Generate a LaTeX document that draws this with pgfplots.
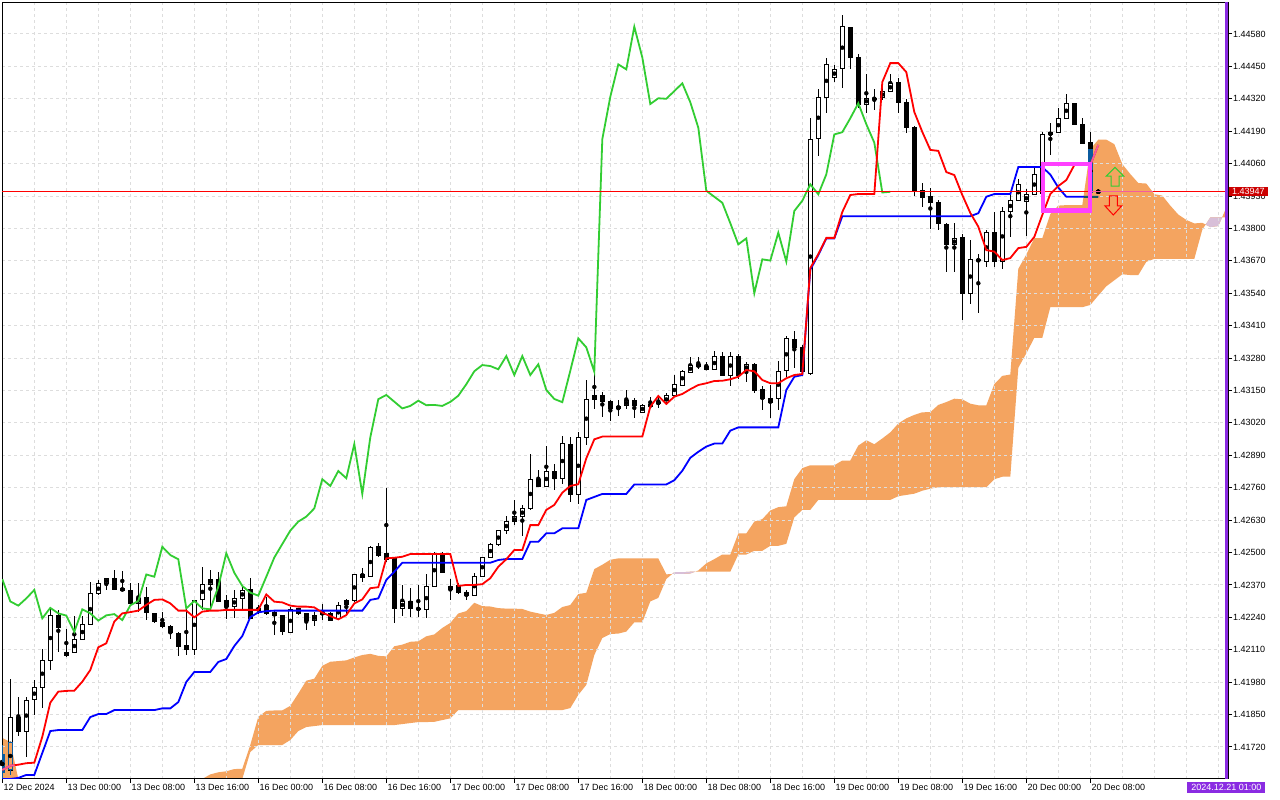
\documentclass[border=0pt]{standalone}
\usepackage{fontspec}
\setmainfont{Liberation Sans}
\usepackage{pgfplots}
\usepackage{pgfplotstable}
\pgfplotsset{compat=1.18}
\usepgfplotslibrary{fillbetween}
\definecolor{sandy}{RGB}{244,164,96}
\definecolor{thistlec}{RGB}{216,191,216}
\definecolor{tealk}{RGB}{11,91,159}
\definecolor{tealb}{RGB}{11,91,96}
\definecolor{pinkx}{RGB}{244,91,159}
\definecolor{limegr}{RGB}{50,205,50}
\definecolor{magbox}{RGB}{255,64,255}
\definecolor{bviolet}{RGB}{138,43,226}
\definecolor{pricered}{RGB}{204,0,0}
\definecolor{pline}{RGB}{255,0,0}
\definecolor{gridc}{RGB}{221,221,221}

\pgfplotstableread{
k O H L C
0 1.41688 1.41728 1.41592 1.41616
1 1.41628 1.41993 1.41608 1.41840
2 1.41839 1.41922 1.41764 1.41785
3 1.41785 1.41921 1.41681 1.41909
4 1.41911 1.41989 1.41848 1.41960
5 1.41960 1.42113 1.41878 1.42068
6 1.42068 1.42274 1.42029 1.42248
7 1.42248 1.42272 1.42102 1.42199
8 1.42088 1.42193 1.42082 1.42100
9 1.42100 1.42248 1.42098 1.42152
10 1.42152 1.42248 1.42150 1.42212
11 1.42212 1.42383 1.42210 1.42336
12 1.42336 1.42390 1.42330 1.42375
13 1.42377 1.42398 1.42350 1.42396
14 1.42397 1.42430 1.42352 1.42354
15 1.42357 1.42427 1.42347 1.42348
16 1.42347 1.42379 1.42296 1.42297
17 1.42297 1.42379 1.42263 1.42316
18 1.42320 1.42363 1.42229 1.42260
19 1.42256 1.42258 1.42217 1.42223
20 1.42221 1.42263 1.42196 1.42203
21 1.42205 1.42209 1.42153 1.42180
22 1.42178 1.42180 1.42086 1.42126
23 1.42128 1.42276 1.42089 1.42110
24 1.42112 1.42312 1.42089 1.42310
25 1.42312 1.42443 1.42270 1.42373
26 1.42373 1.42430 1.42283 1.42393
27 1.42393 1.42422 1.42303 1.42304
28 1.42310 1.42330 1.42236 1.42287
29 1.42287 1.42350 1.42236 1.42316
30 1.42316 1.42370 1.42276 1.42350
31 1.42350 1.42397 1.42233 1.42236
32 1.42270 1.42290 1.42253 1.42278
33 1.42288 1.42323 1.42249 1.42256
34 1.42259 1.42270 1.42169 1.42247
35 1.42249 1.42251 1.42169 1.42182
36 1.42180 1.42283 1.42178 1.42272
37 1.42275 1.42280 1.42249 1.42256
38 1.42256 1.42258 1.42189 1.42227
39 1.42229 1.42263 1.42207 1.42248
40 1.42260 1.42296 1.42229 1.42253
41 1.42256 1.42263 1.42227 1.42229
42 1.42236 1.42303 1.42234 1.42288
43 1.42292 1.42316 1.42249 1.42306
44 1.42310 1.42414 1.42303 1.42412
45 1.42414 1.42437 1.42383 1.42403
46 1.42403 1.42526 1.42402 1.42523
47 1.42526 1.42537 1.42483 1.42490
48 1.42494 1.42759 1.42462 1.42473
49 1.42477 1.42479 1.42219 1.42276
50 1.42276 1.42370 1.42243 1.42306
51 1.42306 1.42357 1.42243 1.42276
52 1.42278 1.42370 1.42240 1.42272
53 1.42272 1.42414 1.42240 1.42363
54 1.42363 1.42503 1.42361 1.42497
55 1.42497 1.42503 1.42418 1.42419
56 1.42353 1.42397 1.42310 1.42366
57 1.42370 1.42378 1.42334 1.42339
58 1.42342 1.42350 1.42310 1.42327
59 1.42327 1.42417 1.42325 1.42403
60 1.42403 1.42482 1.42401 1.42480
61 1.42481 1.42539 1.42478 1.42534
62 1.42534 1.42593 1.42526 1.42588
63 1.42588 1.42647 1.42574 1.42624
64 1.42624 1.42711 1.42610 1.42644
65 1.42644 1.42691 1.42568 1.42677
66 1.42677 1.42898 1.42673 1.42794
67 1.42794 1.42831 1.42762 1.42767
68 1.42764 1.42927 1.42762 1.42827
69 1.42827 1.42854 1.42751 1.42798
70 1.42798 1.42967 1.42778 1.42935
71 1.42935 1.42965 1.42704 1.42735
72 1.42735 1.42985 1.42697 1.42962
73 1.42962 1.43195 1.42931 1.43115
74 1.43115 1.43252 1.43078 1.43132
75 1.43132 1.43145 1.43045 1.43105
76 1.43105 1.43112 1.43029 1.43078
77 1.43078 1.43112 1.43048 1.43088
78 1.43091 1.43152 1.43078 1.43109
79 1.43109 1.43119 1.43042 1.43091
80 1.43061 1.43096 1.43060 1.43092
81 1.43093 1.43125 1.43078 1.43088
82 1.43097 1.43132 1.43083 1.43104
83 1.43101 1.43139 1.43092 1.43129
84 1.43129 1.43212 1.43125 1.43175
85 1.43172 1.43232 1.43170 1.43227
86 1.43225 1.43283 1.43219 1.43252
87 1.43253 1.43283 1.43235 1.43248
88 1.43248 1.43264 1.43232 1.43235
89 1.43235 1.43306 1.43233 1.43288
90 1.43288 1.43306 1.43208 1.43212
91 1.43212 1.43306 1.43168 1.43288
92 1.43288 1.43299 1.43199 1.43212
93 1.43229 1.43265 1.43185 1.43255
94 1.43255 1.43261 1.43141 1.43152
95 1.43152 1.43168 1.43072 1.43116
96 1.43119 1.43172 1.43038 1.43103
97 1.43119 1.43269 1.43072 1.43229
98 1.43232 1.43369 1.43205 1.43359
99 1.43355 1.43389 1.43243 1.43323
100 1.43323 1.43332 1.43216 1.43225
101 1.43219 1.44242 1.43212 1.44158
102 1.44162 1.44358 1.44092 1.44328
103 1.44328 1.44482 1.44264 1.44458
104 1.44406 1.44456 1.44389 1.44438
105 1.44442 1.44659 1.44366 1.44609
106 1.44607 1.44610 1.44441 1.44486
107 1.44486 1.44502 1.44282 1.44299
108 1.44299 1.44422 1.44264 1.44322
109 1.44324 1.44358 1.44275 1.44320
110 1.44326 1.44366 1.44315 1.44351
111 1.44351 1.44419 1.44348 1.44382
112 1.44386 1.44406 1.44264 1.44306
113 1.44306 1.44319 1.44182 1.44204
114 1.44208 1.44210 1.43930 1.43951
115 1.43954 1.43983 1.43887 1.43927
116 1.43930 1.43961 1.43800 1.43903
117 1.43905 1.43914 1.43796 1.43821
118 1.43818 1.43820 1.43626 1.43736
119 1.43736 1.43821 1.43626 1.43760
120 1.43767 1.43778 1.43433 1.43540
121 1.43540 1.43756 1.43497 1.43676
122 1.43676 1.43700 1.43464 1.43671
123 1.43667 1.43794 1.43647 1.43783
124 1.43783 1.43867 1.43647 1.43667
125 1.43667 1.43887 1.43640 1.43870
126 1.43870 1.43934 1.43767 1.43911
127 1.43914 1.43997 1.43910 1.43977
128 1.43907 1.43961 1.43770 1.43937
129 1.43937 1.44041 1.43934 1.44017
130 1.43941 1.44188 1.43939 1.44177
131 1.44177 1.44224 1.44095 1.44186
132 1.44186 1.44286 1.44184 1.44242
133 1.44242 1.44342 1.44240 1.44302
134 1.44302 1.44304 1.44215 1.44218
135 1.44219 1.44242 1.44141 1.44144
136 1.44146 1.44188 1.43940 1.43944
137 1.43947 1.43950 1.43944 1.43947
}\candles

\pgfplotstableread{
k O H L C
0 1.41688 1.41728 1.41592 1.41616
1 1.41628 1.41740 1.41608 1.41740
136 1.44118 1.44118 1.43940 1.43944
137 1.43947 1.43950 1.43944 1.43947
}\incloud

\pgfplotstableread{
k T K
0 1.41628 1.41592
1 1.41645 1.41592
2 1.41649 1.41596
3 1.41655 1.41608
4 1.41657 1.41608
5 1.41761 1.41696
6 1.41898 1.41784
7 1.41942 1.41788
8 1.41945 1.41788
9 1.41946 1.41788
10 1.41982 1.41788
11 1.42029 1.41840
12 1.42120 1.41852
13 1.42136 1.41852
14 1.42223 1.41868
15 1.42256 1.41868
16 1.42261 1.41868
17 1.42267 1.41868
18 1.42290 1.41868
19 1.42310 1.41868
20 1.42312 1.41875
21 1.42296 1.41875
22 1.42267 1.41900
23 1.42267 1.41981
24 1.42240 1.42021
25 1.42263 1.42021
26 1.42267 1.42021
27 1.42267 1.42061
28 1.42270 1.42073
29 1.42270 1.42125
30 1.42270 1.42165
31 1.42270 1.42241
32 1.42270 1.42260
33 1.42332 1.42265
34 1.42303 1.42267
35 1.42300 1.42267
36 1.42287 1.42267
37 1.42283 1.42267
38 1.42283 1.42267
39 1.42280 1.42267
40 1.42259 1.42267
41 1.42245 1.42267
42 1.42232 1.42267
43 1.42249 1.42267
44 1.42296 1.42267
45 1.42312 1.42267
46 1.42357 1.42310
47 1.42361 1.42316
48 1.42477 1.42390
49 1.42479 1.42423
50 1.42483 1.42459
51 1.42494 1.42459
52 1.42494 1.42459
53 1.42494 1.42459
54 1.42494 1.42459
55 1.42494 1.42459
56 1.42494 1.42459
57 1.42366 1.42459
58 1.42370 1.42459
59 1.42370 1.42459
60 1.42373 1.42459
61 1.42397 1.42459
62 1.42443 1.42470
63 1.42473 1.42474
64 1.42510 1.42474
65 1.42510 1.42474
66 1.42610 1.42543
67 1.42610 1.42543
68 1.42671 1.42577
69 1.42691 1.42577
70 1.42740 1.42597
71 1.42767 1.42597
72 1.42774 1.42597
73 1.42878 1.42711
74 1.42954 1.42723
75 1.42965 1.42735
76 1.42965 1.42735
77 1.42965 1.42735
78 1.42965 1.42735
79 1.42965 1.42773
80 1.42965 1.42773
81 1.43085 1.42773
82 1.43128 1.42773
83 1.43096 1.42773
84 1.43125 1.42790
85 1.43136 1.42828
86 1.43155 1.42880
87 1.43172 1.42904
88 1.43179 1.42925
89 1.43188 1.42937
90 1.43189 1.42937
91 1.43195 1.42989
92 1.43205 1.43002
93 1.43232 1.43002
94 1.43227 1.43002
95 1.43192 1.43002
96 1.43179 1.43002
97 1.43179 1.43002
98 1.43199 1.43152
99 1.43212 1.43205
100 1.43216 1.43212
101 1.43641 1.43635
102 1.43697 1.43693
103 1.43762 1.43760
104 1.43762 1.43760
105 1.43866 1.43849
106 1.43934 1.43849
107 1.43938 1.43849
108 1.43938 1.43849
109 1.43938 1.43849
110 1.44387 1.43849
111 1.44463 1.43849
112 1.44463 1.43849
113 1.44427 1.43849
114 1.44267 1.43849
115 1.44187 1.43849
116 1.44115 1.43849
117 1.44111 1.43849
118 1.44026 1.43849
119 1.44014 1.43849
120 1.43934 1.43849
121 1.43862 1.43849
122 1.43807 1.43861
123 1.43713 1.43927
124 1.43707 1.43938
125 1.43673 1.43938
126 1.43681 1.43938
127 1.43721 1.44046
128 1.43726 1.44046
129 1.43766 1.44046
130 1.43854 1.44046
131 1.43938 1.44016
132 1.43970 1.43964
133 1.43994 1.43927
134 1.44054 1.43927
135 1.44054 1.43927
136 1.44054 1.43927
137 1.44135 1.43927
}\tk

\pgfplotstableread{
k G
0 1.42393
1 1.42304
2 1.42287
3 1.42316
4 1.42350
5 1.42236
6 1.42278
7 1.42256
8 1.42247
9 1.42182
10 1.42272
11 1.42256
12 1.42227
13 1.42248
14 1.42253
15 1.42229
16 1.42288
17 1.42306
18 1.42412
19 1.42403
20 1.42523
21 1.42490
22 1.42473
23 1.42276
24 1.42306
25 1.42276
26 1.42272
27 1.42363
28 1.42497
29 1.42419
30 1.42366
31 1.42339
32 1.42327
33 1.42403
34 1.42480
35 1.42534
36 1.42588
37 1.42624
38 1.42644
39 1.42677
40 1.42794
41 1.42767
42 1.42827
43 1.42798
44 1.42935
45 1.42735
46 1.42962
47 1.43115
48 1.43132
49 1.43105
50 1.43078
51 1.43088
52 1.43109
53 1.43091
54 1.43092
55 1.43088
56 1.43104
57 1.43129
58 1.43175
59 1.43227
60 1.43252
61 1.43248
62 1.43235
63 1.43288
64 1.43212
65 1.43288
66 1.43212
67 1.43255
68 1.43152
69 1.43116
70 1.43103
71 1.43229
72 1.43359
73 1.43323
74 1.43225
75 1.44158
76 1.44328
77 1.44458
78 1.44438
79 1.44609
80 1.44486
81 1.44299
82 1.44322
83 1.44320
84 1.44351
85 1.44382
86 1.44306
87 1.44204
88 1.43951
89 1.43927
90 1.43903
91 1.43821
92 1.43736
93 1.43760
94 1.43540
95 1.43676
96 1.43671
97 1.43783
98 1.43667
99 1.43870
100 1.43911
101 1.43977
102 1.43937
103 1.44017
104 1.44177
105 1.44186
106 1.44242
107 1.44302
108 1.44218
109 1.44144
110 1.43944
111 1.43947
}\chikou

\pgfplotstableread{
k A B
0 1.41756 1.41592
1 1.41740 1.41592
2 1.41592 1.41592
3 1.41592 1.41592
4 1.41592 1.41592
5 1.41592 1.41592
6 1.41592 1.41592
7 1.41592 1.41592
8 1.41592 1.41592
9 1.41592 1.41592
10 1.41592 1.41592
11 1.41592 1.41592
12 1.41592 1.41592
13 1.41592 1.41592
14 1.41592 1.41592
15 1.41592 1.41592
16 1.41592 1.41592
17 1.41592 1.41592
18 1.41592 1.41592
19 1.41592 1.41592
20 1.41592 1.41592
21 1.41592 1.41592
22 1.41592 1.41592
23 1.41592 1.41592
24 1.41592 1.41592
25 1.41592 1.41592
26 1.41610 1.41592
27 1.416185 1.41592
28 1.416225 1.41592
29 1.416315 1.41592
30 1.416325 1.41592
31 1.417285 1.41700
32 1.41841 1.41728
33 1.41865 1.41728
34 1.418665 1.41728
35 1.41867 1.41728
36 1.41885 1.41748
37 1.419345 1.41784
38 1.41986 1.41800
39 1.41994 1.41804
40 1.420455 1.41808
41 1.42062 1.41808
42 1.420645 1.41808
43 1.420675 1.41808
44 1.42079 1.41808
45 1.42089 1.41808
46 1.420935 1.41808
47 1.420855 1.41808
48 1.420835 1.41808
49 1.42124 1.41808
50 1.421305 1.41812
51 1.42142 1.41816
52 1.42144 1.41820
53 1.42164 1.41820
54 1.421715 1.41821
55 1.421975 1.41828
56 1.422175 1.41835
57 1.422555 1.41868
58 1.42265 1.41868
59 1.422985 1.41868
60 1.42285 1.41868
61 1.422835 1.41868
62 1.42277 1.41868
63 1.42275 1.41868
64 1.42275 1.41868
65 1.422735 1.41868
66 1.42263 1.41868
67 1.42256 1.41868
68 1.422495 1.41868
69 1.42258 1.41868
70 1.422815 1.41868
71 1.422895 1.41876
72 1.423335 1.41929
73 1.423385 1.41969
74 1.424335 1.42089
75 1.42451 1.42157
76 1.42471 1.42173
77 1.424765 1.42175
78 1.424765 1.42183
79 1.424765 1.42220
80 1.424765 1.42220
81 1.424765 1.42304
82 1.424765 1.42318
83 1.424125 1.42394
84 1.424145 1.42421
85 1.424145 1.42421
86 1.42416 1.42423
87 1.42428 1.42423
88 1.424565 1.42423
89 1.424735 1.42423
90 1.42492 1.42423
91 1.42492 1.42423
92 1.425765 1.42492
93 1.425765 1.42492
94 1.42624 1.42507
95 1.42634 1.42507
96 1.426685 1.42527
97 1.42682 1.42527
98 1.426855 1.42535
99 1.427945 1.42641
100 1.428385 1.42671
101 1.42850 1.42671
102 1.42850 1.42711
103 1.42850 1.42711
104 1.42850 1.42711
105 1.42869 1.42711
106 1.42869 1.42711
107 1.42929 1.42711
108 1.429505 1.42711
109 1.429345 1.42711
110 1.429575 1.42711
111 1.42982 1.42711
112 1.430175 1.42726
113 1.43038 1.42731
114 1.43052 1.42736
115 1.430625 1.42748
116 1.43063 1.42756
117 1.43092 1.42762
118 1.431035 1.42762
119 1.43117 1.42762
120 1.431145 1.42762
121 1.43097 1.42762
122 1.430905 1.42762
123 1.430905 1.42762
124 1.431755 1.42794
125 1.432085 1.42804
126 1.43214 1.42804
127 1.43638 1.43241
128 1.43695 1.43299
129 1.43761 1.43361
130 1.43761 1.43361
131 1.438575 1.43484
132 1.438915 1.43484
133 1.438935 1.43484
134 1.438935 1.43484
135 1.438935 1.43484
136 1.44118 1.43493
137 1.44156 1.43531
138 1.44156 1.43568
139 1.44138 1.43592
140 1.44058 1.43616
141 1.44018 1.43613
142 1.43982 1.43613
143 1.43980 1.43666
144 1.439375 1.43678
145 1.439315 1.43678
146 1.438915 1.43678
147 1.438555 1.43678
148 1.43834 1.43678
149 1.43820 1.43678
150 1.438225 1.43795
151 1.438055 1.43844
152 1.438095 1.43844
153 1.438835 1.43844
}\cloud

\pgfplotstableread{
k P
-0.0375 1.43947
153.2125 1.43947
}\price

\begin{document}
\begin{tikzpicture}
\path (0pt,0pt) rectangle (1280pt,800pt);
\begin{axis}[
  at={(2pt,21pt)}, anchor=south west,
  scale only axis, width=1226pt, height=776.5pt,
  xmin=-0.0375, xmax=153.2125, ymin=1.4159165, ymax=1.447062,
  clip mode=individual,
  axis background/.style={fill=white},
  axis line style={black, line width=1pt},
  tick style={black, line width=1pt},
  major tick length=4pt, minor tick length=0pt,
  tick align=outside,
  xtick pos=left, ytick pos=right, yticklabel pos=right,
  xtick={0,8,...,136},
  xticklabels={12 Dec 2024, 13 Dec 00:00, 13 Dec 08:00, 13 Dec 16:00, 16 Dec 00:00, 16 Dec 08:00, 16 Dec 16:00, 17 Dec 00:00, 17 Dec 08:00, 17 Dec 16:00, 18 Dec 00:00, 18 Dec 08:00, 18 Dec 16:00, 19 Dec 00:00, 19 Dec 08:00, 19 Dec 16:00, 20 Dec 00:00, 20 Dec 08:00},
  minor xtick={4,12,...,132,140,144,148,152},
  ytick={1.4172,1.4185,1.4198,1.4211,1.4224,1.4237,1.4250,1.4263,1.4276,1.4289,1.4302,1.4315,1.4328,1.4341,1.4354,1.4367,1.4380,1.4393,1.4406,1.4419,1.4432,1.4445,1.4458},
  yticklabels={1.41720,1.41850,1.41980,1.42110,1.42240,1.42370,1.42500,1.42630,1.42760,1.42890,1.43020,1.43150,1.43280,1.43410,1.43540,1.43670,1.43800,1.43930,1.44060,1.44190,1.44320,1.44450,1.44580},
  ticklabel style={font=\fontsize{9}{10.8}\selectfont},
  xticklabel style={anchor=north west, inner sep=0pt, xshift=1pt, yshift=-1pt},
  yticklabel style={anchor=west, inner sep=0pt, xshift=1pt},
  xmajorgrids, xminorgrids, ymajorgrids,
  major grid style={gridc, line width=1pt, dash pattern=on 3pt off 3pt},
  minor grid style={gridc, line width=1pt, dash pattern=on 3pt off 3pt},
]
% cloud (Senkou span A / B)
\addplot[name path=sa, draw=none, mark=none, forget plot] table[x=k, y=A] {\cloud};
\addplot[name path=sb, draw=none, mark=none, forget plot] table[x=k, y=B] {\cloud};
\addplot[fill=sandy, draw=none] fill between[of=sa and sb, on layer=axis background];
\addplot[fill=thistlec, draw=none] fill between[of=sa and sb, on layer=axis background, soft clip={domain=83.74:86.58}];
\addplot[fill=thistlec, draw=none] fill between[of=sa and sb, on layer=axis background, soft clip={domain=150.42:152.47}];
% wicks
\addplot[only marks, mark=none, forget plot, error bars/.cd, y dir=both, y explicit, error mark=none,
  error bar style={draw=black, line width=1pt, solid}]
  table[x=k, y expr={(\thisrow{H}+\thisrow{L})/2}, y error expr={(\thisrow{H}-\thisrow{L})/2}] {\candles};
% bodies
\addplot[only marks, mark=none, forget plot, error bars/.cd, y dir=both, y explicit, error mark=none,
  error bar style={draw=black, line width=5pt, solid}]
  table[x=k, y expr={(\thisrow{O}+\thisrow{C})/2}, y error expr={abs(\thisrow{C}-\thisrow{O})/2+0.00002}] {\candles};
\addplot[only marks, mark=none, forget plot, error bars/.cd, y dir=both, y explicit, error mark=none,
  error bar style={draw=white, line width=3pt, solid}]
  table[x=k, y expr={(\thisrow{O}+\thisrow{C})/2}, y error expr={max((\thisrow{C}-\thisrow{O})/2-0.00002,0)}] {\candles};
% parts of candles lying inside the cloud
\addplot[only marks, mark=none, forget plot, error bars/.cd, y dir=both, y explicit, error mark=none,
  error bar style={draw=tealk, line width=1pt, solid}]
  table[x=k, y expr={(\thisrow{H}+\thisrow{L})/2}, y error expr={(\thisrow{H}-\thisrow{L})/2}] {\incloud};
\addplot[only marks, mark=none, forget plot, error bars/.cd, y dir=both, y explicit, error mark=none,
  error bar style={draw=tealk, line width=5pt, solid}]
  table[x=k, y expr={(\thisrow{O}+\thisrow{C})/2}, y error expr={abs(\thisrow{C}-\thisrow{O})/2+0.00002}] {\incloud};
\addplot[only marks, mark=none, forget plot, error bars/.cd, y dir=both, y explicit, error mark=none,
  error bar style={draw=sandy, line width=3pt, solid}]
  table[x=k, y expr={(\thisrow{O}+\thisrow{C})/2}, y error expr={max((\thisrow{C}-\thisrow{O})/2-0.00002,0)}] {\incloud};
% Chikou, Kijun, Tenkan
\addplot[limegr, line width=1.8pt, mark=none] table[x=k, y=G] {\chikou};
\addplot[blue, line width=1.8pt, mark=none] table[x=k, y=K] {\tk};
\addplot[red, line width=1.8pt, mark=none] table[x=k, y=T] {\tk};
% current price line (nudged onto a whole pixel row)
\addplot[draw=pline, line width=1pt, mark=none, yshift=0.3pt] table[x=k, y=P] {\price};
% the same lines where they cross the cloud
\addplot[pinkx, line width=1.8pt, mark=none] coordinates {(0,1.41628) (1,1.41645) (1.55,1.41647)};
\addplot[pinkx, line width=1.8pt, mark=none] coordinates {(135.71,1.44054) (136,1.44054) (137,1.44135)};
\addplot[tealb, line width=1.8pt, mark=none] coordinates {(135.15,1.43927) (137,1.43927)};
\addplot[pinkx, line width=1pt, mark=none, yshift=0.3pt] coordinates {(136.2,1.43947) (143.8,1.43947)};
% signal box
\draw[magbox, line width=4.5pt] (axis cs:130.11,1.440584) rectangle (axis cs:135.94,1.438719);
\coordinate (pr) at (axis cs:153.2125,1.43947);
\coordinate (vb) at (axis cs:153,1.4159165);
\coordinate (vt) at (axis cs:153,1.447062);
\coordinate (ga) at (axis cs:139.09,1.44010);
\coordinate (ra) at (axis cs:138.875,1.43890);
\end{axis}
\draw[bviolet, line width=3.5pt] (vb) -- (vt);
\draw[limegr, line width=1pt, shift={(ga)}] (-4pt,-10pt) -- (-4pt,0pt) -- (-8.7pt,0pt) -- (0pt,8.7pt) -- (8.7pt,0pt) -- (4pt,0pt) -- (4pt,-10pt) -- cycle;
\draw[red, line width=1pt, shift={(ra)}] (-4pt,10pt) -- (-4pt,0pt) -- (-8.3pt,0pt) -- (0pt,-9pt) -- (8.3pt,0pt) -- (4pt,0pt) -- (4pt,10pt) -- cycle;
\node[fill=pricered, text=white, font=\fontsize{9}{10.8}\selectfont, inner xsep=3pt, inner ysep=1.5pt, anchor=west] at ([xshift=1pt]pr) {1.43947};
\node[fill=bviolet, text=white, font=\fontsize{9}{10.8}\selectfont, inner xsep=4pt, inner ysep=2pt, anchor=north] at ([yshift=-3pt]vb) {2024.12.21 01:00};
\end{tikzpicture}
\end{document}
